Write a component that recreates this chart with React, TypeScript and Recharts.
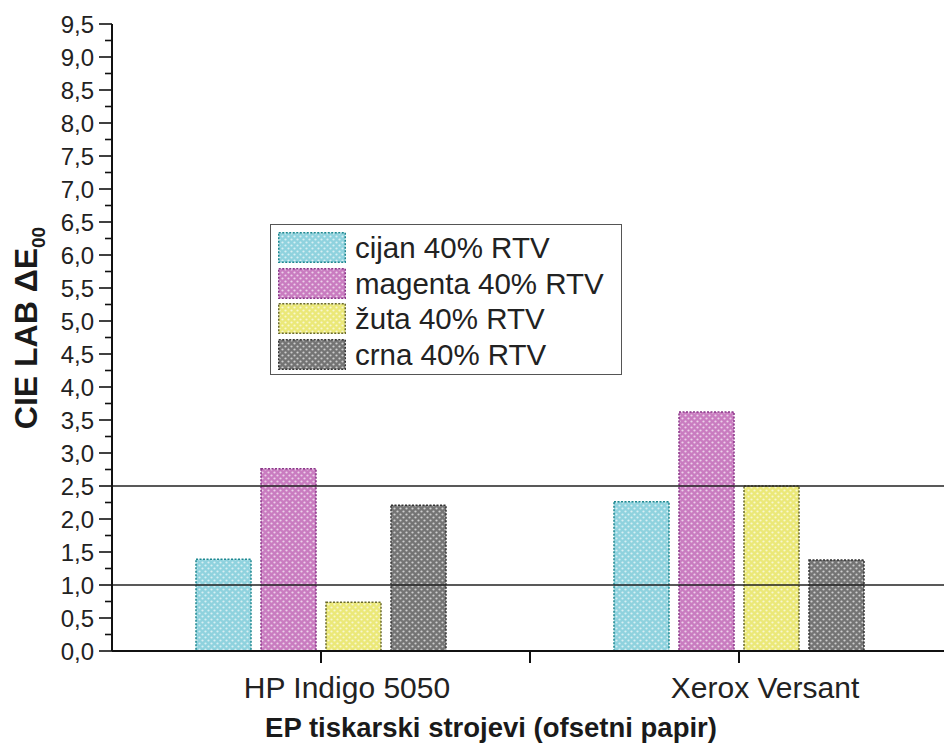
import { BarChart, Bar, XAxis, YAxis, ReferenceLine, Legend } from "recharts";

// data
const printers = ["HP Indigo 5050", "Xerox Versant"];
const cyanValues = [1.39, 2.26];
const magentaValues = [2.76, 3.62];
const yellowValues = [0.74, 2.5];
const blackValues = [2.21, 1.38];
const seriesNames = ["cijan 40% RTV", "magenta 40% RTV", "žuta 40% RTV", "crna 40% RTV"];
const yTicks = [
  0, 0.25, 0.5, 0.75, 1, 1.25, 1.5, 1.75, 2, 2.25, 2.5, 2.75, 3, 3.25, 3.5, 3.75, 4, 4.25, 4.5,
  4.75, 5, 5.25, 5.5, 5.75, 6, 6.25, 6.5, 6.75, 7, 7.25, 7.5, 7.75, 8, 8.25, 8.5, 8.75, 9, 9.25,
  9.5,
];
const thresholds = [1.0, 2.5];

const data = printers.map((name, i) => ({
  name,
  cijan: cyanValues[i],
  magenta: magentaValues[i],
  zuta: yellowValues[i],
  crna: blackValues[i],
}));

const series = [
  { key: "cijan", name: seriesNames[0], base: "#8fd2de", border: "#1e8890", id: "pat-cyan" },
  { key: "magenta", name: seriesNames[1], base: "#c97cc0", border: "#8a3588", id: "pat-magenta" },
  { key: "zuta", name: seriesNames[2], base: "#ebe878", border: "#6a6a2c", id: "pat-yellow" },
  { key: "crna", name: seriesNames[3], base: "#747474", border: "#333333", id: "pat-black" },
];

const FONT = '"Liberation Sans", Arial, Helvetica, sans-serif';
const W = 948;
const H = 747;
const AXIS_X = 112;
const TOP = 24;
const XAXIS_H = 96;
const PLOT_BOTTOM = H - XAXIS_H;
const BAND = (W - AXIS_X) / printers.length;

const Patterns = () => (
  <svg width={0} height={0} style={{ position: "absolute" }}>
    <defs>
      {series.map((s) => (
        <pattern key={s.id} id={s.id} width={6} height={6} patternUnits="userSpaceOnUse">
          <rect width={6} height={6} fill={s.base} />
          <circle cx={1.5} cy={1.5} r={1.1} fill="#fff" opacity={0.65} />
          <circle cx={4.5} cy={4.5} r={1.1} fill="#fff" opacity={0.65} />
        </pattern>
      ))}
    </defs>
  </svg>
);

const YTick = (props: any) => {
  const { y, payload } = props;
  const v = payload.value as number;
  const major = Math.abs(v * 2 - Math.round(v * 2)) < 1e-6;
  return (
    <g>
      <line x1={AXIS_X - (major ? 13 : 7)} x2={AXIS_X} y1={y} y2={y} stroke="#111" strokeWidth={1.6} />
      {major && (
        <text x={AXIS_X - 18} y={y} dy={8.5} textAnchor="end" fontSize={24} fontFamily={FONT} fill="#222">
          {v.toFixed(1).replace(".", ",")}
        </text>
      )}
    </g>
  );
};

const XTick = (props: any) => {
  const { x, payload, index } = props;
  return (
    <g>
      <line x1={x} x2={x} y1={PLOT_BOTTOM} y2={PLOT_BOTTOM + 12} stroke="#111" strokeWidth={2} />
      {index === 0 && (
        <line x1={x + BAND / 2} x2={x + BAND / 2} y1={PLOT_BOTTOM} y2={PLOT_BOTTOM + 12} stroke="#111" strokeWidth={2} />
      )}
      <text x={x + 26} y={PLOT_BOTTOM + 47} textAnchor="middle" fontSize={30} fontFamily={FONT} fill="#222">
        {payload.value}
      </text>
    </g>
  );
};

const LegendBox = () => (
  <div
    style={{
      width: 352,
      height: 151,
      boxSizing: "border-box",
      border: "1.5px solid #555",
      background: "#fff",
      padding: "5px 0 0 7px",
    }}
  >
    {series.map((s) => (
      <div key={s.key} style={{ display: "flex", alignItems: "center", height: 35.5 }}>
        <svg width={68} height={31}>
          <rect
            x={0.75}
            y={0.75}
            width={66.5}
            height={29.5}
            fill={`url(#${s.id})`}
            stroke={s.border}
            strokeWidth={1.5}
            strokeDasharray="2 1.5"
          />
        </svg>
        <span style={{ marginLeft: 9, fontSize: 29.5, fontFamily: FONT, color: "#222", lineHeight: 1 }}>
          {s.name}
        </span>
      </div>
    ))}
  </div>
);

export default function App() {
  return (
    <div style={{ position: "absolute", left: 0, top: 0, width: 944, height: 747, overflow: "hidden", background: "#fff" }}>
      <Patterns />
      <BarChart
        width={W}
        height={H}
        data={data}
        margin={{ top: TOP, right: 0, bottom: 0, left: 0 }}
        barCategoryGap={84}
        barGap={10}
      >
        <XAxis
          dataKey="name"
          height={XAXIS_H}
          tickLine={false}
          tickSize={0}
          tickMargin={0}
          axisLine={{ stroke: "#111", strokeWidth: 2 }}
          tick={<XTick />}
          interval={0}
          label={{
            content: () => (
              <text x={491} y={737} textAnchor="middle" fontSize={27.5} fontWeight="bold" fontFamily={FONT} fill="#1a1a1a">
                EP tiskarski strojevi (ofsetni papir)
              </text>
            ),
          }}
        />
        <YAxis
          width={AXIS_X}
          domain={[0, 9.5]}
          ticks={yTicks}
          interval={0}
          tickLine={false}
          tickSize={0}
          tickMargin={0}
          axisLine={{ stroke: "#111", strokeWidth: 2 }}
          tick={<YTick />}
          label={{
            content: () => (
              <text
                transform="translate(37 328) rotate(-90)"
                textAnchor="middle"
                fontSize={32}
                fontWeight="bold"
                fontFamily={FONT}
                fill="#1a1a1a"
              >
                CIE LAB ΔE
                <tspan fontSize={19} dy={8}>00</tspan>
              </text>
            ),
          }}
        />
        <Legend
          layout="vertical"
          align="center"
          verticalAlign="middle"
          content={() => <LegendBox />}
          wrapperStyle={{ position: "absolute", left: 270, top: 224, width: 352, height: 151 }}
        />
        {series.map((s) => (
          <Bar
            key={s.key}
            dataKey={s.key}
            name={s.name}
            fill={`url(#${s.id})`}
            stroke={s.border}
            strokeWidth={1.5}
            strokeDasharray="2 1.5"
            isAnimationActive={false}
          />
        ))}
        {thresholds.map((t) => (
          <ReferenceLine key={t} y={t} stroke="#222" strokeWidth={1.5} />
        ))}
      </BarChart>
    </div>
  );
}
